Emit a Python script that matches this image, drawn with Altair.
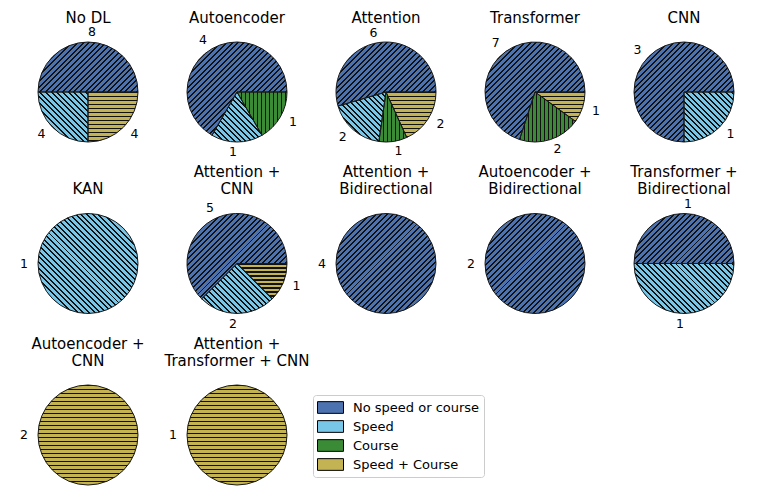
import math
import altair as alt
import pandas as pd

# ---------------- data ----------------
titles = [
    ["No DL"], ["Autoencoder"], ["Attention"], ["Transformer"], ["CNN"],
    ["KAN"], ["Attention +", "CNN"], ["Attention +", "Bidirectional"],
    ["Autoencoder +", "Bidirectional"], ["Transformer +", "Bidirectional"],
    ["Autoencoder +", "CNN"], ["Attention +", "Transformer + CNN"],
]
categories = ["No speed or course", "Speed", "Course", "Speed + Course"]
no_speed_or_course = [8, 4, 6, 7, 3, 0, 5, 4, 2, 1, 0, 0]
speed = [4, 1, 2, 0, 1, 1, 2, 0, 0, 1, 0, 0]
course = [0, 1, 1, 2, 0, 0, 0, 0, 0, 0, 0, 0]
speed_and_course = [4, 0, 2, 1, 0, 0, 1, 0, 0, 0, 2, 1]
series = [no_speed_or_course, speed, course, speed_and_course]

# ---------------- style ----------------
colors = ["#4C72B0", "#78C6E8", "#3A8A36", "#C4B352"]
hatches = ["/", "\\", "|", "-"]
FONT = "DejaVu Sans"
PIE = 100
R = PIE / 2
DIAG_PERIOD = 4.0
LINE_PERIOD = 4.0
INK = 1.4
INK_COLOR = "#111111"
CLEAR = "rgba(0,0,0,0)"
TITLE_GAP = 16.5
TITLE_LINE = 17

color_scale = alt.Scale(domain=categories, range=colors)
legend = alt.Legend(
    title=None, orient="none", legendX=275, legendY=353,
    symbolType="M-1,-0.45H1V0.45H-1Z", symbolSize=676,
    symbolStrokeColor="black", symbolStrokeWidth=1, symbolOpacity=1,
    labelFont=FONT, labelFontSize=13, labelColor="black", labelOffset=9,
    padding=4, strokeColor="#cccccc", cornerRadius=3, fillColor="white",
    rowPadding=2, clipHeight=17,
)


def stripe_stops(span, period):
    stops = []
    k = 0
    while k * period < span:
        a = k * period / span
        b = min((k * period + INK) / span, 1.0)
        stops += [
            {"offset": a, "color": CLEAR},
            {"offset": a, "color": INK_COLOR},
            {"offset": b, "color": INK_COLOR},
            {"offset": b, "color": CLEAR},
        ]
        k += 1
    return stops


def wedge_bbox(a0, a1):
    if a1 - a0 >= 359.999:
        return 2 * R, 2 * R
    angs = [a0, a1] + [k * 90 for k in range(5) if a0 < k * 90 < a1]
    xs = [0.0] + [R * math.cos(math.radians(a)) for a in angs]
    ys = [0.0] + [-R * math.sin(math.radians(a)) for a in angs]
    return max(max(xs) - min(xs), 1.0), max(max(ys) - min(ys), 1.0)


def hatch_fill(h, w, hh):
    if h in ("/", "\\"):
        c = (w + hh) / (w * w + hh * hh)
        span = (w + hh) / math.sqrt(2)
        stops = stripe_stops(span, DIAG_PERIOD)
        if h == "/":
            return {"gradient": "linear", "x1": 0, "y1": 0, "x2": w * c, "y2": hh * c, "stops": stops}
        return {"gradient": "linear", "x1": 0, "y1": 1, "x2": w * c, "y2": 1 - hh * c, "stops": stops}
    if h == "|":
        return {"gradient": "linear", "x1": 0, "y1": 0, "x2": 1, "y2": 0, "stops": stripe_stops(w, LINE_PERIOD)}
    return {"gradient": "linear", "x1": 0, "y1": 0, "x2": 0, "y2": 1, "stops": stripe_stops(hh, LINE_PERIOD)}


def panel(i):
    vals = [s[i] for s in series]
    total = sum(vals)
    df = pd.DataFrame({"cat": categories, "value": vals, "order": [0, 1, 2, 3]})
    df = df[df["value"] > 0]
    tscale = alt.Scale(domain=[0, total], range=[2.5 * math.pi, 0.5 * math.pi])

    base = alt.Chart().mark_arc().encode(
        theta=alt.Theta("s0:Q", scale=tscale),
        theta2="s1:Q",
        color=alt.Color("cat:N", scale=color_scale, legend=legend),
    )
    layers = [base]
    cum = 0
    for j, cat in enumerate(categories):
        if vals[j] == 0:
            continue
        a0 = 360.0 * cum / total
        a1 = 360.0 * (cum + vals[j]) / total
        cum += vals[j]
        w, hh = wedge_bbox(a0, a1)
        layers.append(
            alt.Chart().transform_filter(alt.datum.cat == cat)
            .mark_arc(fill=hatch_fill(hatches[j], w, hh), stroke="#1a1a1a", strokeWidth=1)
            .encode(theta=alt.Theta("s0:Q", scale=tscale), theta2="s1:Q")
        )
    for cond, align in [("cos(datum.ang*PI/180) < 0", "right"), ("cos(datum.ang*PI/180) >= 0", "left")]:
        layers.append(
            alt.Chart().transform_filter(cond)
            .mark_text(radius=60, align=align, baseline="middle", font=FONT, fontSize=12.5, color="black")
            .encode(theta=alt.Theta("mid:Q", scale=tscale), text="value:Q")
        )
    # panel title (one text per panel)
    nlines = len(titles[i])
    layers.append(
        alt.Chart().transform_aggregate(n="count()")
        .mark_text(text=titles[i], align="center", baseline="bottom", font=FONT, fontSize=15,
                   lineHeight=TITLE_LINE, color="black")
        .encode(x=alt.value(PIE / 2), y=alt.value(-TITLE_GAP - (nlines - 1) * TITLE_LINE))
    )
    return (
        alt.layer(*layers, data=df)
        .transform_stack(stack="value", groupby=[], as_=["s0", "s1"],
                         sort=[alt.SortField("order", order="ascending")])
        .transform_calculate(mid="(datum.s0 + datum.s1) / 2")
        .transform_calculate(ang=f"360 * datum.mid / {total}")
        .properties(width=PIE, height=PIE)
    )


def row(idx):
    return alt.hconcat(*[panel(i) for i in idx], spacing=49, bounds="flush").resolve_scale(
        theta="independent", color="shared")


chart = (
    alt.vconcat(row(range(0, 5)), row(range(5, 10)), row(range(10, 12)), spacing=171.5, bounds="flush")
    .resolve_scale(theta="independent", color="shared")
    .properties(padding={"left": 12, "top": 2, "right": 5, "bottom": 5})
    .configure(font=FONT)
    .configure_view(strokeWidth=0)
)

chart.save("out.html", embed_options={"renderer": "svg", "actions": False})
